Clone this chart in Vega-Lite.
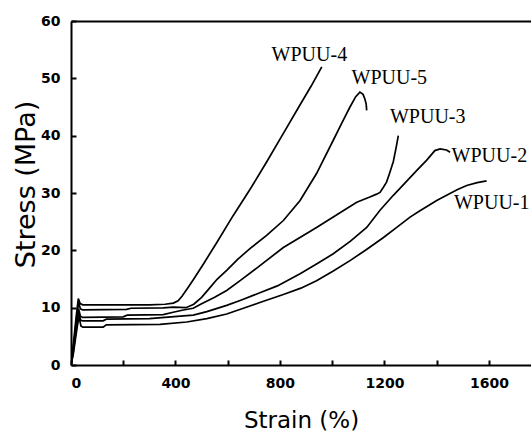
{
  "$schema": "https://vega.github.io/schema/vega-lite/v6.json",
  "autosize": "none",
  "padding": {"left": 71, "top": 21, "right": 0, "bottom": 67},
  "width": 460,
  "height": 344,
  "background": "white",
  "config": {"view": {"stroke": null}},
  "datasets": {
    "curves": [
      {"s":"WPUU-4","x":0,"y":0},{"s":"WPUU-4","x":5,"y":2},{"s":"WPUU-4","x":12,"y":5},{"s":"WPUU-4","x":20,"y":8.5},{"s":"WPUU-4","x":28,"y":11.6},{"s":"WPUU-4","x":35,"y":10.7},{"s":"WPUU-4","x":45,"y":10.5},{"s":"WPUU-4","x":150,"y":10.5},{"s":"WPUU-4","x":300,"y":10.5},{"s":"WPUU-4","x":360,"y":10.6},{"s":"WPUU-4","x":392,"y":10.8},{"s":"WPUU-4","x":410,"y":11.2},{"s":"WPUU-4","x":425,"y":12.0},{"s":"WPUU-4","x":445,"y":13.3},{"s":"WPUU-4","x":470,"y":15.0},{"s":"WPUU-4","x":504,"y":17.4},{"s":"WPUU-4","x":560,"y":21.5},{"s":"WPUU-4","x":620,"y":26.0},{"s":"WPUU-4","x":685,"y":30.6},{"s":"WPUU-4","x":750,"y":35.5},{"s":"WPUU-4","x":813,"y":40.4},{"s":"WPUU-4","x":877,"y":45.4},{"s":"WPUU-4","x":920,"y":48.7},{"s":"WPUU-4","x":960,"y":52.0},
      {"s":"WPUU-5","x":0,"y":0},{"s":"WPUU-5","x":6,"y":2},{"s":"WPUU-5","x":14,"y":5},{"s":"WPUU-5","x":22,"y":8.5},{"s":"WPUU-5","x":29,"y":10.9},{"s":"WPUU-5","x":36,"y":9.8},{"s":"WPUU-5","x":45,"y":9.6},{"s":"WPUU-5","x":213,"y":9.7},{"s":"WPUU-5","x":230,"y":9.9},{"s":"WPUU-5","x":353,"y":9.95},{"s":"WPUU-5","x":391,"y":10.1},{"s":"WPUU-5","x":440,"y":10.0},{"s":"WPUU-5","x":470,"y":10.6},{"s":"WPUU-5","x":500,"y":11.8},{"s":"WPUU-5","x":532,"y":13.5},{"s":"WPUU-5","x":560,"y":15.0},{"s":"WPUU-5","x":596,"y":16.5},{"s":"WPUU-5","x":640,"y":18.5},{"s":"WPUU-5","x":685,"y":20.3},{"s":"WPUU-5","x":749,"y":22.6},{"s":"WPUU-5","x":813,"y":25.2},{"s":"WPUU-5","x":877,"y":28.7},{"s":"WPUU-5","x":940,"y":33.4},{"s":"WPUU-5","x":1004,"y":39.2},{"s":"WPUU-5","x":1040,"y":42.5},{"s":"WPUU-5","x":1068,"y":45.0},{"s":"WPUU-5","x":1090,"y":46.8},{"s":"WPUU-5","x":1106,"y":47.6},{"s":"WPUU-5","x":1118,"y":47.2},{"s":"WPUU-5","x":1125,"y":46.4},{"s":"WPUU-5","x":1130,"y":45.5},{"s":"WPUU-5","x":1132,"y":44.4},
      {"s":"WPUU-3","x":0,"y":0},{"s":"WPUU-3","x":7,"y":2},{"s":"WPUU-3","x":15,"y":5},{"s":"WPUU-3","x":23,"y":8},{"s":"WPUU-3","x":29,"y":9.8},{"s":"WPUU-3","x":36,"y":8.5},{"s":"WPUU-3","x":45,"y":8.3},{"s":"WPUU-3","x":200,"y":8.4},{"s":"WPUU-3","x":215,"y":8.7},{"s":"WPUU-3","x":353,"y":8.8},{"s":"WPUU-3","x":391,"y":9.2},{"s":"WPUU-3","x":430,"y":9.6},{"s":"WPUU-3","x":468,"y":9.9},{"s":"WPUU-3","x":500,"y":10.7},{"s":"WPUU-3","x":550,"y":11.8},{"s":"WPUU-3","x":596,"y":13.0},{"s":"WPUU-3","x":650,"y":14.8},{"s":"WPUU-3","x":711,"y":16.9},{"s":"WPUU-3","x":813,"y":20.5},{"s":"WPUU-3","x":940,"y":24.0},{"s":"WPUU-3","x":1042,"y":26.9},{"s":"WPUU-3","x":1094,"y":28.4},{"s":"WPUU-3","x":1144,"y":29.3},{"s":"WPUU-3","x":1170,"y":29.8},{"s":"WPUU-3","x":1183,"y":30.1},{"s":"WPUU-3","x":1196,"y":31.0},{"s":"WPUU-3","x":1208,"y":31.9},{"s":"WPUU-3","x":1220,"y":33.5},{"s":"WPUU-3","x":1234,"y":35.5},{"s":"WPUU-3","x":1245,"y":38.0},{"s":"WPUU-3","x":1253,"y":40.0},
      {"s":"WPUU-2","x":0,"y":0},{"s":"WPUU-2","x":8,"y":2},{"s":"WPUU-2","x":16,"y":5},{"s":"WPUU-2","x":24,"y":7.8},{"s":"WPUU-2","x":30,"y":9.2},{"s":"WPUU-2","x":37,"y":7.8},{"s":"WPUU-2","x":45,"y":7.7},{"s":"WPUU-2","x":123,"y":7.7},{"s":"WPUU-2","x":135,"y":8.0},{"s":"WPUU-2","x":300,"y":8.1},{"s":"WPUU-2","x":443,"y":8.6},{"s":"WPUU-2","x":468,"y":8.7},{"s":"WPUU-2","x":520,"y":9.3},{"s":"WPUU-2","x":596,"y":10.4},{"s":"WPUU-2","x":650,"y":11.3},{"s":"WPUU-2","x":723,"y":12.6},{"s":"WPUU-2","x":790,"y":13.8},{"s":"WPUU-2","x":877,"y":15.9},{"s":"WPUU-2","x":940,"y":17.6},{"s":"WPUU-2","x":1004,"y":19.4},{"s":"WPUU-2","x":1070,"y":21.6},{"s":"WPUU-2","x":1132,"y":24.0},{"s":"WPUU-2","x":1183,"y":27.0},{"s":"WPUU-2","x":1234,"y":29.6},{"s":"WPUU-2","x":1280,"y":31.8},{"s":"WPUU-2","x":1323,"y":33.9},{"s":"WPUU-2","x":1361,"y":35.7},{"s":"WPUU-2","x":1393,"y":37.4},{"s":"WPUU-2","x":1413,"y":37.7},{"s":"WPUU-2","x":1438,"y":37.5},{"s":"WPUU-2","x":1451,"y":37.1},
      {"s":"WPUU-1","x":0,"y":0},{"s":"WPUU-1","x":9,"y":2},{"s":"WPUU-1","x":17,"y":4.5},{"s":"WPUU-1","x":25,"y":7},{"s":"WPUU-1","x":31,"y":8.4},{"s":"WPUU-1","x":38,"y":6.8},{"s":"WPUU-1","x":45,"y":6.6},{"s":"WPUU-1","x":123,"y":6.6},{"s":"WPUU-1","x":135,"y":7.0},{"s":"WPUU-1","x":341,"y":7.1},{"s":"WPUU-1","x":443,"y":7.5},{"s":"WPUU-1","x":520,"y":8.1},{"s":"WPUU-1","x":596,"y":8.9},{"s":"WPUU-1","x":660,"y":9.9},{"s":"WPUU-1","x":723,"y":10.9},{"s":"WPUU-1","x":813,"y":12.3},{"s":"WPUU-1","x":880,"y":13.4},{"s":"WPUU-1","x":940,"y":14.7},{"s":"WPUU-1","x":1004,"y":16.4},{"s":"WPUU-1","x":1068,"y":18.2},{"s":"WPUU-1","x":1130,"y":20.1},{"s":"WPUU-1","x":1195,"y":22.2},{"s":"WPUU-1","x":1247,"y":24.0},{"s":"WPUU-1","x":1298,"y":25.8},{"s":"WPUU-1","x":1336,"y":26.9},{"s":"WPUU-1","x":1400,"y":28.7},{"s":"WPUU-1","x":1438,"y":29.6},{"s":"WPUU-1","x":1480,"y":30.6},{"s":"WPUU-1","x":1515,"y":31.3},{"s":"WPUU-1","x":1555,"y":31.8},{"s":"WPUU-1","x":1591,"y":32.1}
    ],
    "labels": [
      {"s":"WPUU-4","x":768,"y":54.1},
      {"s":"WPUU-5","x":1074,"y":50.1},
      {"s":"WPUU-3","x":1221,"y":43.2},
      {"s":"WPUU-2","x":1457,"y":36.5},
      {"s":"WPUU-1","x":1466,"y":28.3}
    ]
  },
  "layer": [
    {
      "data": {"name": "curves"},
      "mark": {"type": "line", "color": "black", "strokeWidth": 1.7, "clip": true},
      "encoding": {
        "x": {
          "field": "x", "type": "quantitative",
          "scale": {"domain": [0, 1761], "nice": false, "zero": false},
          "axis": {
            "title": "Strain (%)",
            "values": [0, 200, 400, 600, 800, 1000, 1200, 1400, 1600],
            "labelExpr": "datum.value % 400 === 0 ? format(datum.value, 'd') : ''",
            "labelFont": "DejaVu Sans", "labelFontWeight": "bold", "labelFontSize": 14, "labelColor": "black",
            "labelPadding": 16,
            "ticks": true,
            "tickSize": -5,
            "tickColor": "black", "tickWidth": 2,
            "domainColor": "black", "domainWidth": 2,
            "grid": false,
            "titleFont": "DejaVu Sans", "titleFontSize": 23, "titleFontWeight": "normal", "titleColor": "black",
            "titleBaseline": "alphabetic", "titleY": 62
          }
        },
        "y": {
          "field": "y", "type": "quantitative",
          "scale": {"domain": [0, 60], "nice": false},
          "axis": {
            "title": "Stress (MPa)",
            "values": [0, 5, 10, 15, 20, 25, 30, 35, 40, 45, 50, 55, 60],
            "labelExpr": "datum.value % 10 === 0 ? format(datum.value, 'd') : ''",
            "labelFont": "DejaVu Sans", "labelFontWeight": "bold", "labelFontSize": 14, "labelColor": "black",
            "labelPadding": 16,
            "ticks": true,
            "tickSize": -5,
            "tickColor": "black", "tickWidth": 2,
            "domainColor": "black", "domainWidth": 2,
            "grid": true, "gridColor": "black", "gridWidth": 2,
            "gridOpacity": {"condition": {"test": "datum.value === 60", "value": 1}, "value": 0},
            "titleFont": "DejaVu Sans", "titleFontSize": 27, "titleFontWeight": "normal", "titleColor": "black",
            "titleBaseline": "alphabetic", "titleAngle": 270, "titleX": -37, "titleY": 163
          }
        },
        "detail": {"field": "s"}
      }
    },
    {
      "data": {"name": "labels"},
      "mark": {"type": "text", "align": "left", "baseline": "middle", "font": "Liberation Serif", "fontWeight": "normal", "fontSize": 20, "color": "black"},
      "encoding": {
        "x": {"field": "x", "type": "quantitative"},
        "y": {"field": "y", "type": "quantitative"},
        "text": {"field": "s"}
      }
    }
  ]
}
